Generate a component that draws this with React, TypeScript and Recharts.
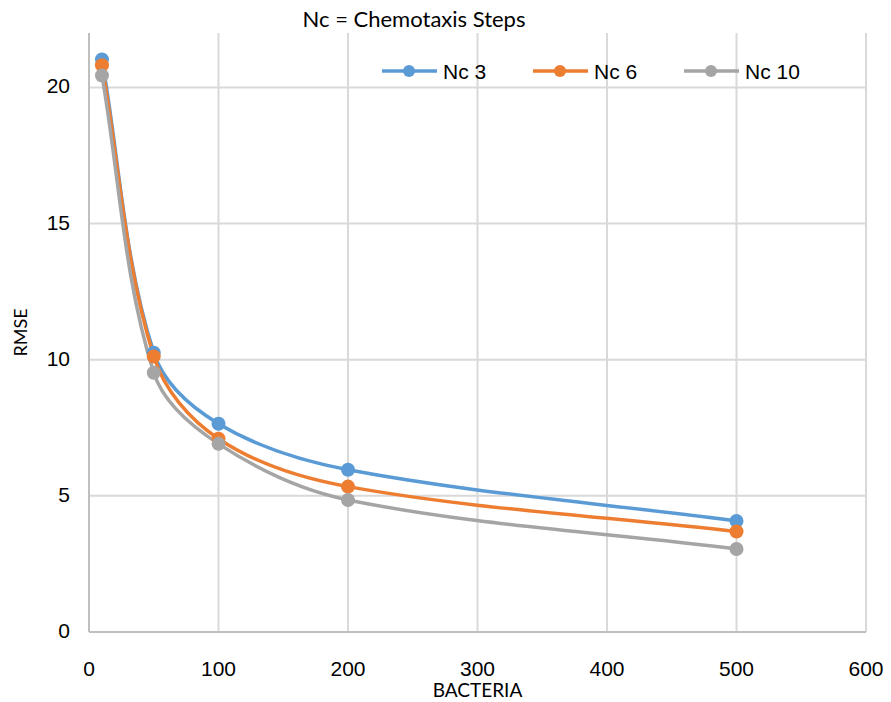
import { CartesianGrid, Line, LineChart, XAxis, YAxis } from "recharts";

const bacteria = [10, 50, 100, 200, 500];
const nc3 = [21.03, 10.26, 7.65, 5.96, 4.08];
const nc6 = [20.82, 10.12, 7.1, 5.34, 3.69];
const nc10 = [20.44, 9.52, 6.91, 4.85, 3.05];
const xTicks = [0, 100, 200, 300, 400, 500, 600];
const yTicks = [0, 5, 10, 15, 20];

const SERIES = [
  { key: "nc3", name: "Nc 3", color: "#5B9BD5" },
  { key: "nc6", name: "Nc 6", color: "#ED7D31" },
  { key: "nc10", name: "Nc 10", color: "#A5A5A5" },
];

const data = bacteria.map((b, i) => ({ b, nc3: nc3[i], nc6: nc6[i], nc10: nc10[i] }));

const SANS = "'Liberation Sans', Arial, sans-serif";
const TITLE_FONT = "Lato, 'Open Sans', sans-serif";

// Excel-like smoothing: tangent from neighbours, handle length = chord / 3
function excelSmooth(context: any) {
  let pts: number[][] = [];
  const unit = (a: number[], b: number[]) => {
    const dx = b[0] - a[0];
    const dy = b[1] - a[1];
    const len = Math.hypot(dx, dy) || 1;
    return [dx / len, dy / len];
  };
  return {
    areaStart() {},
    areaEnd() {},
    lineStart() {
      pts = [];
    },
    point(x: number, y: number) {
      pts.push([+x, +y]);
    },
    lineEnd() {
      if (!pts.length) return;
      context.moveTo(pts[0][0], pts[0][1]);
      for (let i = 0; i < pts.length - 1; i++) {
        const p0 = pts[i - 1] || pts[i];
        const p1 = pts[i];
        const p2 = pts[i + 1];
        const p3 = pts[i + 2] || p2;
        const h = Math.hypot(p2[0] - p1[0], p2[1] - p1[1]) / 3;
        const t1 = unit(p0, p2);
        const t2 = unit(p1, p3);
        context.bezierCurveTo(
          p1[0] + t1[0] * h,
          p1[1] + t1[1] * h,
          p2[0] - t2[0] * h,
          p2[1] - t2[1] * h,
          p2[0],
          p2[1]
        );
      }
    },
  };
}

function XTick({ x, y, payload }: any) {
  return (
    <text x={x} y={y + 36} textAnchor="middle" fontFamily={SANS} fontSize={21} fill="#000">
      {payload.value}
    </text>
  );
}

function YTick({ y, payload }: any) {
  return (
    <text x={70} y={y + 6} textAnchor="end" fontFamily={SANS} fontSize={21} fill="#000">
      {payload.value}
    </text>
  );
}

// legend sits inside the plot, drawn over the chart
function LegendOverlay() {
  const spots = [382, 533, 684];
  return (
    <svg width={891} height={702} style={{ position: "absolute", left: 0, top: 0, pointerEvents: "none" }}>
      {SERIES.map((s, i) => (
        <g key={s.key} transform={`translate(${spots[i]},71)`}>
          <line x1={0} x2={55} y1={0} y2={0} stroke={s.color} strokeWidth={3.5} />
          <circle cx={27} cy={0} r={6} fill={s.color} />
          <text x={61} y={7.5} fontFamily={SANS} fontSize={21} fill="#000">
            {s.name}
          </text>
        </g>
      ))}
    </svg>
  );
}

export default function App() {
  return (
    <div
      style={{
        position: "absolute",
        left: 0,
        top: 0,
        width: 891,
        height: 702,
        background: "#fff",
      }}
    >
      <LineChart width={891} height={702} data={data} margin={{ top: 33, right: 25, left: 0, bottom: 0 }}>
        <text x={414} y={27} textAnchor="middle" fontFamily={TITLE_FONT} fontSize={22} fill="#000">
          Nc = Chemotaxis Steps
        </text>
        <CartesianGrid stroke="#d9d9d9" strokeWidth={2} verticalValues={xTicks} horizontalValues={yTicks} />
        <XAxis
          type="number"
          dataKey="b"
          domain={[0, 600]}
          ticks={xTicks}
          height={70}
          tickLine={false}
          axisLine={{ stroke: "#bfbfbf", strokeWidth: 2 }}
          tick={<XTick />}
          interval={0}
          label={{
            value: "BACTERIA",
            position: "insideBottom",
            offset: 5,
            style: { fontFamily: TITLE_FONT, fontSize: 19, fill: "#000" },
          }}
        />
        <YAxis
          type="number"
          domain={[0, 22]}
          ticks={yTicks}
          width={89}
          tickLine={false}
          axisLine={{ stroke: "#bfbfbf", strokeWidth: 2 }}
          tick={<YTick />}
          interval={0}
          label={{
            value: "RMSE",
            angle: -90,
            position: "insideLeft",
            offset: 21,
            style: { fontFamily: TITLE_FONT, fontSize: 18, fill: "#000", textAnchor: "middle" },
          }}
        />
        {SERIES.map((s) => (
          <Line
            key={s.key}
            type={excelSmooth as any}
            dataKey={s.key}
            name={s.name}
            stroke={s.color}
            strokeWidth={3.5}
            dot={{ r: 7, fill: s.color, stroke: s.color, strokeWidth: 0 }}
            activeDot={false}
            isAnimationActive={false}
          />
        ))}
      </LineChart>
      <LegendOverlay />
    </div>
  );
}
